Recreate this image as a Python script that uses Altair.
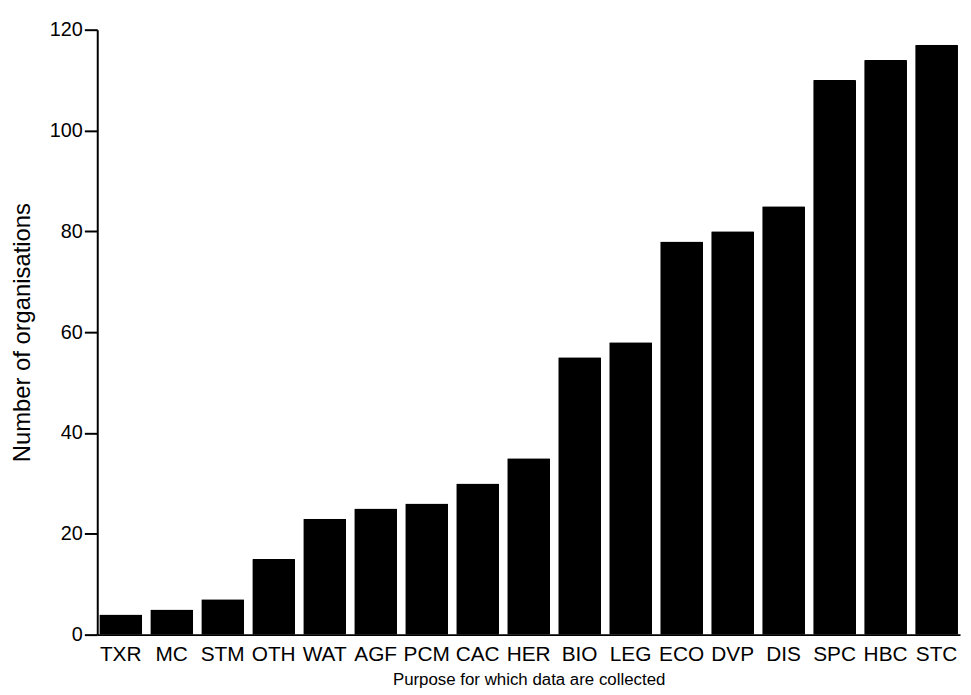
import altair as alt
import pandas as pd

categories = ["TXR", "MC", "STM", "OTH", "WAT", "AGF", "PCM", "CAC", "HER",
              "BIO", "LEG", "ECO", "DVP", "DIS", "SPC", "HBC", "STC"]
counts = [4, 5, 7, 15, 23, 25, 26, 30, 35, 55, 58, 78, 80, 85, 110, 114, 117]
y_ticks = [0, 20, 40, 60, 80, 100, 120]

df = pd.DataFrame({"purpose": categories, "count": counts})

FONT = "Liberation Sans"

chart = (
    alt.Chart(df)
    .mark_bar(color="black", cornerRadius=1)
    .encode(
        x=alt.X(
            "purpose:N",
            sort=categories,
            scale=alt.Scale(paddingInner=0.16, paddingOuter=0.04),
            axis=alt.Axis(
                title="Purpose for which data are collected",
                labelAngle=0,
                ticks=False,
                labelPadding=9,
                labelFontSize=21,
                labelFont=FONT,
                labelColor="black",
                titleFontSize=17,
                titleFont=FONT,
                titleFontWeight="normal",
                titleColor="black",
                titlePadding=7,
                domainColor="black",
                domainWidth=2,
                labelOverlap=False,
                labelLimit=0,
            ),
        ),
        y=alt.Y(
            "count:Q",
            scale=alt.Scale(domain=[0, 120], nice=False),
            axis=alt.Axis(
                title="Number of organisations",
                values=y_ticks,
                grid=False,
                tickSize=13,
                tickWidth=2,
                tickColor="black",
                labelPadding=2,
                labelFontSize=20,
                labelFont=FONT,
                labelColor="black",
                titleFontSize=24,
                titleFont=FONT,
                titleFontWeight="normal",
                titleColor="black",
                titlePadding=15,
                domainColor="black",
                domainWidth=2,
            ),
        ),
    )
    .properties(
        width=870,
        height=610,
        autosize=alt.AutoSizeParams(type="none"),
        padding={"left": 90, "top": 19, "right": 3, "bottom": 58},
    )
    .configure_view(stroke=None)
)

chart.save("out.html", embed_options={"renderer": "svg", "actions": False})
